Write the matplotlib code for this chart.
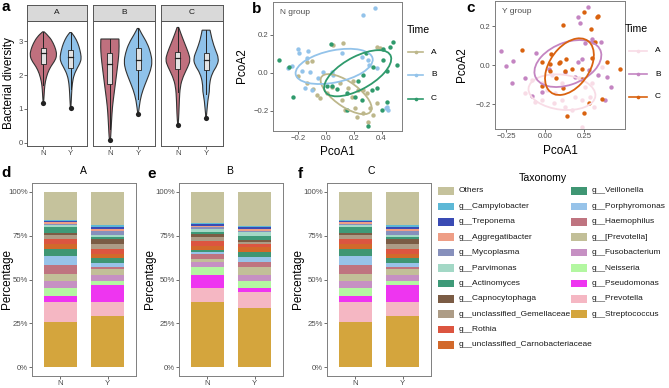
import numpy as np
import matplotlib.pyplot as plt
from matplotlib.patches import Ellipse, Rectangle, PathPatch
from matplotlib.path import Path

plt.rcParams['font.family'] = ['Liberation Sans', 'DejaVu Sans']

W, H = 669, 388

# ---- a: bacterial diversity, violin outlines ----
div_times = ['A', 'B', 'C']
div_groups = ['N', 'Y']
div_colors = ['#C0707E', '#8FC2EA']

# diversity level / half width of the violin (x units)
vio_AN_y = [3.27, 3.13, 2.93, 2.74, 2.59, 2.44, 2.25, 2.05, 1.80, 1.60, 1.17]
vio_AN_w = [0.03, 0.22, 0.37, 0.46, 0.49, 0.44, 0.27, 0.15, 0.07, 0.04, 0.01]
vio_AY_y = [3.25, 3.13, 2.93, 2.74, 2.54, 2.39, 2.20, 2.00, 1.75, 1.46, 1.02]
vio_AY_w = [0.03, 0.15, 0.27, 0.34, 0.39, 0.37, 0.24, 0.12, 0.06, 0.035, 0.01]
vio_BN_y = [3.06, 2.83, 2.54, 2.25, 1.85, 1.46, 1.07, 0.68, 0.28, 0.10]
vio_BN_w = [0.32, 0.33, 0.31, 0.27, 0.21, 0.15, 0.09, 0.06, 0.035, 0.02]
vio_BY_y = [3.37, 3.22, 2.93, 2.64, 2.39, 2.15, 1.85, 1.56, 1.26, 0.84]
vio_BY_w = [0.03, 0.12, 0.33, 0.45, 0.50, 0.45, 0.31, 0.17, 0.07, 0.01]
vio_CN_y = [3.40, 3.23, 2.93, 2.64, 2.44, 2.25, 1.95, 1.66, 1.26, 0.87, 0.53]
vio_CN_w = [0.03, 0.10, 0.24, 0.38, 0.44, 0.36, 0.18, 0.08, 0.05, 0.035, 0.01]
vio_CY_y = [3.32, 3.03, 2.74, 2.49, 2.29, 2.05, 1.75, 1.51, 1.26, 0.74]
vio_CY_w = [0.14, 0.21, 0.33, 0.45, 0.40, 0.21, 0.12, 0.12, 0.06, 0.01]

# lower whisker, q1, median, q3, upper whisker / outliers
box_AN = [1.70, 2.31, 2.64, 2.79, 3.27]
box_AY = [1.60, 2.21, 2.54, 2.74, 3.24]
box_BN = [0.40, 1.74, 2.32, 2.64, 3.06]
box_BY = [1.30, 2.15, 2.43, 2.79, 3.37]
box_CN = [1.50, 2.17, 2.49, 2.69, 3.40]
box_CY = [1.45, 2.15, 2.44, 2.66, 3.32]
out_AN, out_AY = [1.17], [1.02]
out_BN, out_BY = [0.10], [0.84]
out_CN, out_CY = [0.53], [0.74]

# ---- b: PCoA of N group ----
b_colors = ['#BDB78B', '#93C3EA', '#2F9A6C']
bA_x = [0.125, 0.053, -0.139, -0.103, -0.199, -0.134, -0.091, -0.062, -0.043, 0.005,
        0.041, 0.101, 0.161, 0.197, 0.185, 0.113, 0.233, 0.269, 0.293, 0.209,
        0.137, 0.221, 0.269, 0.317, 0.365, 0.341, 0.305, 0.365, 0.388]
bA_y = [0.158, 0.146, 0.058, 0.063, -0.018, -0.053, -0.088, -0.118, -0.132, -0.109,
        -0.077, -0.053, -0.082, -0.044, -0.126, -0.144, -0.091, -0.091, -0.109, -0.188,
        -0.196, -0.232, -0.211, -0.188, -0.161, -0.223, -0.258, 0.137, 0.128]
bB_x = [0.264, 0.350, -0.199, -0.127, -0.194, -0.273, -0.247, -0.175, -0.115, -0.024,
        0.041, -0.151, -0.103, 0.113, 0.305, 0.312, 0.365, 0.429, 0.448, 0.257,
        -0.055, 0.053, -0.139, 0.436]
bB_y = [0.304, 0.339, 0.123, 0.116, 0.102, 0.023, 0.037, 0.009, 0.005, 0.005,
        0.005, -0.082, -0.091, 0.102, 0.067, 0.040, 0.023, -0.188, -0.196, 0.081,
        -0.030, -0.012, 0.075, -0.182]
bC_x = [-0.336, -0.264, -0.235, 0.034, 0.288, 0.412, 0.460, 0.484, 0.436, 0.508,
        0.341, 0.269, 0.233, 0.365, 0.329, 0.436, 0.400, 0.149, 0.257, 0.005,
        0.041, 0.300, 0.077, 0.412, 0.209, 0.149]
bC_y = [0.067, 0.032, -0.126, 0.149, 0.102, 0.123, 0.137, 0.160, 0.011, 0.040,
        0.032, -0.012, -0.044, -0.082, -0.091, -0.153, -0.196, -0.196, -0.144, -0.070,
        -0.070, -0.281, -0.088, 0.067, -0.126, -0.109]
# ellipse: centre x, centre y, semi axis a, semi axis b, angle
b_ell = [(0.145, -0.113, 0.20, 0.07, -25), (0.059, 0.033, 0.28, 0.085, 8),
         (0.228, -0.003, 0.255, 0.09, 20)]

# ---- c: PCoA of Y group ----
c_colors = ['#F8DCE6', '#C485C2', '#D9620F']
cA_x = [-0.083, -0.019, 0.013, 0.066, 0.109, 0.194, 0.237, 0.291, 0.312, -0.062,
        0.173, 0.259, 0.216, -0.126, 0.045, 0.301, 0.237, 0.109, -0.019, 0.365,
        0.130, 0.056]
cA_y = [-0.075, -0.092, -0.126, -0.144, -0.178, -0.161, -0.178, -0.161, -0.212, -0.186,
        -0.229, -0.109, -0.067, -0.144, -0.050, -0.092, -0.315, -0.092, -0.178, -0.007,
        -0.212, -0.195]
cB_x = [0.276, 0.212, 0.224, 0.259, 0.301, 0.308, 0.361, -0.282, -0.205, -0.250,
        -0.056, 0.024, -0.130, -0.212, -0.083, -0.019, 0.126, 0.194, 0.237, 0.284,
        0.340, 0.397, 0.423, 0.387, 0.212]
cB_y = [0.297, 0.246, 0.219, 0.113, 0.135, 0.118, 0.120, 0.074, 0.022, -0.003,
        0.062, -0.017, -0.067, -0.089, -0.156, -0.138, -0.032, -0.062, 0.031, -0.024,
        -0.050, -0.062, -0.113, -0.178, 0.019]
cC_x = [0.252, 0.340, 0.335, 0.115, 0.297, -0.150, 0.323, 0.036, -0.019, 0.030,
        0.088, 0.098, 0.135, 0.173, 0.126, 0.073, 0.239, 0.301, 0.397, 0.481,
        0.237, 0.115, -0.019, 0.365, 0.252, 0.143, 0.280, 0.034]
cC_y = [0.275, 0.255, 0.246, 0.207, 0.185, 0.079, 0.121, 0.058, 0.015, 0.005,
        0.014, 0.019, 0.031, -0.021, -0.029, -0.067, -0.019, 0.036, 0.015, -0.019,
        -0.072, -0.115, -0.106, -0.173, -0.246, -0.260, -0.195, -0.027]
c_ell = [(0.109, -0.138, 0.215, 0.09, -5), (0.147, 0.009, 0.22, 0.11, 15),
         (0.157, -0.007, 0.18, 0.115, 40)]

# ---- d/e/f: genus composition (percent), legend order = top of stack first ----
taxa = ['Others', 'g__Campylobacter', 'g__Treponema', 'g__Aggregatibacter',
        'g__Mycoplasma', 'g__Parvimonas', 'g__Actinomyces', 'g__Capnocytophaga',
        'g__unclassified_Gemellaceae', 'g__Rothia', 'g__unclassified_Carnobacteriaceae',
        'g__Veillonella', 'g__Porphyromonas', 'g__Haemophilus', 'g__[Prevotella]',
        'g__Fusobacterium', 'g__Neisseria', 'g__Pseudomonas', 'g__Prevotella',
        'g__Streptococcus']
tax_colors = ['#C5C29C', '#5DB8D6', '#3A4BB4', '#EE9E86', '#8790BC', '#A3D8C6',
              '#3E9A78', '#7B5C45', '#AD9C86', '#DC5540', '#D2692B', '#3F9673',
              '#97C3E9', '#BF7480', '#C2BF98', '#C690C3', '#B3F7A1', '#EE35F0',
              '#F5B7C3', '#D4A53D']
bar_A_N = [15.9, 0.8, 0.7, 0.9, 0.8, 1.2, 3.0, 1.3, 2.3, 2.8, 2.9, 4.2, 4.9, 5.1,
           3.9, 4.2, 4.7, 3.5, 10.9, 26.0]
bar_A_Y = [19.0, 1.0, 1.0, 1.3, 2.1, 1.1, 1.5, 2.5, 3.3, 2.7, 2.5, 2.4, 2.4, 1.2,
           3.4, 3.2, 2.5, 10.0, 7.9, 29.0]
bar_B_N = [17.6, 0.9, 0.8, 0.9, 1.1, 1.5, 1.0, 1.7, 2.8, 2.7, 2.2, 1.2, 1.3, 2.8,
           1.5, 2.9, 4.6, 7.3, 7.9, 37.3]
bar_B_Y = [19.7, 0.6, 0.9, 1.0, 0.9, 1.9, 2.4, 1.3, 1.0, 1.9, 2.5, 3.2, 2.9, 2.4,
           4.8, 3.7, 3.6, 2.7, 8.9, 33.7]
bar_C_N = [15.9, 0.8, 0.7, 0.9, 0.8, 1.2, 3.0, 1.3, 2.3, 2.8, 2.9, 4.2, 4.9, 5.1,
           3.9, 4.2, 4.7, 3.5, 10.9, 26.0]
bar_C_Y = [19.0, 1.0, 1.0, 1.3, 2.1, 1.1, 1.5, 2.5, 3.3, 2.7, 2.5, 2.4, 2.4, 1.2,
           3.4, 3.2, 2.5, 10.0, 7.9, 29.0]

fig = plt.figure(figsize=(W / 100, H / 100), dpi=100)


def px_axes(x0, y0, x1, y1):
    return fig.add_axes([x0 / W, 1 - y1 / H, (x1 - x0) / W, (y1 - y0) / H])


def style(ax, spine='#7F7F7F'):
    for s in ax.spines.values():
        s.set_color(spine)
        s.set_linewidth(0.7)
    ax.tick_params(length=2, width=0.6, color='#555555', labelsize=5.6,
                   labelcolor='#4D4D4D', pad=1.2)


def smooth_outline(xs, ys):
    # quadratic bezier through midpoints so the violin edge is not jagged
    pts = np.column_stack([xs, ys])
    verts = [pts[0]]
    codes = [Path.MOVETO]
    for i in range(1, len(pts) - 1):
        mid = (pts[i] + pts[i + 1]) / 2
        verts += [pts[i], mid]
        codes += [Path.CURVE3, Path.CURVE3]
    verts += [pts[-1], pts[0]]
    codes += [Path.LINETO, Path.CLOSEPOLY]
    return Path(verts, codes)


# ---- panel a ----
violins = {
    ('A', 'N'): (vio_AN_y, vio_AN_w, box_AN, out_AN),
    ('A', 'Y'): (vio_AY_y, vio_AY_w, box_AY, out_AY),
    ('B', 'N'): (vio_BN_y, vio_BN_w, box_BN, out_BN),
    ('B', 'Y'): (vio_BY_y, vio_BY_w, box_BY, out_BY),
    ('C', 'N'): (vio_CN_y, vio_CN_w, box_CN, out_CN),
    ('C', 'Y'): (vio_CY_y, vio_CY_w, box_CY, out_CY),
}
facet_px = [(27, 87), (93, 155), (161, 223)]
for i, t in enumerate(div_times):
    x0, x1 = facet_px[i]
    ax = px_axes(x0, 21, x1, 146)
    style(ax, '#555555')
    for j, g in enumerate(div_groups):
        pos = j + 1
        vy, vw, bx, outl = violins[(t, g)]
        vy = np.array(vy)
        vw = np.array(vw)
        xs = np.concatenate([pos + vw, (pos - vw)[::-1]])
        ys = np.concatenate([vy, vy[::-1]])
        ax.add_patch(PathPatch(smooth_outline(xs, ys), facecolor=div_colors[j],
                               edgecolor='#333333', lw=0.8, zorder=2))
        ax.plot([pos, pos], [bx[0], bx[1]], color='#222222', lw=0.7, zorder=3)
        ax.plot([pos, pos], [bx[3], bx[4]], color='#222222', lw=0.7, zorder=3)
        ax.add_patch(Rectangle((pos - 0.09, bx[1]), 0.18, bx[3] - bx[1],
                               facecolor='#E3E3E3', edgecolor='#222222', lw=0.6, zorder=4))
        ax.plot([pos - 0.09, pos + 0.09], [bx[2], bx[2]], color='#222222', lw=0.9, zorder=5)
        ax.scatter([pos] * len(outl), outl, s=14, color='#222222', zorder=5, lw=0)
    ax.set_xlim(0.4, 2.6)
    ax.set_ylim(-0.09, 3.59)
    ax.set_xticks([1, 2])
    ax.set_xticklabels(div_groups)
    if i == 0:
        ax.set_yticks([0, 1, 2, 3])
    else:
        ax.set_yticks([])
    sax = px_axes(x0, 5, x1, 21)
    sax.set_facecolor('#D9D9D9')
    for s in sax.spines.values():
        s.set_color('#555555')
        s.set_linewidth(0.7)
    sax.set_xticks([])
    sax.set_yticks([])
    sax.text(0.5, 0.5, t, ha='center', va='center', fontsize=6, color='#1A1A1A',
             transform=sax.transAxes)

# ---- panels b and c ----
pcoa = [
    ((273, 2, 402, 131), (-0.381, 0.547), (-0.307, 0.372), b_colors, b_ell,
     [(bA_x, bA_y), (bB_x, bB_y), (bC_x, bC_y)], 'N group',
     [-0.2, 0.0, 0.2, 0.4], ['\u22120.2', '0.0', '0.2', '0.4']),
    ((495, 1, 625, 129), (-0.32, 0.513), (-0.327, 0.33), c_colors, c_ell,
     [(cA_x, cA_y), (cB_x, cB_y), (cC_x, cC_y)], 'Y group',
     [-0.25, 0.0, 0.25], ['\u22120.25', '0.00', '0.25']),
]
for box, xl, yl, cols, ells, pts, lab, xt, xtl in pcoa:
    ax = px_axes(*box)
    style(ax)
    for k in range(3):
        px, py = pts[k]
        ax.scatter(px, py, s=10, color=cols[k], lw=0, zorder=2)
        cx, cy, a, b, ang = ells[k]
        ax.add_patch(Ellipse((cx, cy), 2 * a, 2 * b, angle=ang, fill=False,
                             edgecolor=cols[k], lw=1.3, zorder=3))
    ax.set_xlim(*xl)
    ax.set_ylim(*yl)
    ax.set_xticks(xt)
    ax.set_xticklabels(xtl)
    ax.set_yticks([-0.2, 0.0, 0.2])
    ax.set_yticklabels(['\u22120.2', '0.0', '0.2'])
    ax.text(0.055, 0.92, lab, transform=ax.transAxes, fontsize=6, color='#4D4D4D',
            va='center')

# ---- panels d, e, f ----
bars = [((32, 136), 'A', bar_A_N, bar_A_Y), ((179, 283), 'B', bar_B_N, bar_B_Y),
        ((327, 431), 'C', bar_C_N, bar_C_Y)]
for (x0, x1), t, vn, vy in bars:
    ax = px_axes(x0, 183, x1, 376)
    style(ax)
    vals = np.array([vn, vy]) / 100.0
    bottom = np.zeros(2)
    for k in range(len(taxa) - 1, -1, -1):
        ax.bar([1, 2], vals[:, k], bottom=bottom, width=0.7, color=tax_colors[k], lw=0)
        bottom += vals[:, k]
    ax.set_xlim(0.4, 2.6)
    ax.set_ylim(-0.05, 1.05)
    ax.set_xticks([1, 2])
    ax.set_xticklabels(div_groups)
    ax.set_yticks([0, 0.25, 0.5, 0.75, 1.0])
    ax.set_yticklabels(['0%', '25%', '50%', '75%', '100%'])

# ---- overlay in pixel coordinates for labels and legends ----
ov = fig.add_axes([0, 0, 1, 1])
ov.set_xlim(0, W)
ov.set_ylim(H, 0)
ov.axis('off')

for letter, (lx, ly) in zip('abcdef', [(6, 7), (257, 9), (471, 8), (6, 173), (152, 174), (300, 174)]):
    ov.text(lx, ly, letter, fontsize=11, fontweight='bold', ha='center', va='center')

ov.text(9, 83, 'Bacterial diversity', rotation=90, fontsize=8.5, ha='center', va='center')
ov.text(242, 66, 'PcoA2', rotation=90, fontsize=8.5, ha='center', va='center')
ov.text(462, 65, 'PcoA2', rotation=90, fontsize=8.5, ha='center', va='center')
ov.text(337, 152, 'PcoA1', fontsize=8.5, ha='center', va='center')
ov.text(560, 151, 'PcoA1', fontsize=8.5, ha='center', va='center')
for px_ in [7, 150, 298]:
    ov.text(px_, 279, 'Percentage', rotation=90, fontsize=8.5, ha='center', va='center')
for tx, t in zip([83, 230, 371], div_times):
    ov.text(tx, 171, t, fontsize=7.5, ha='center', va='center')

# Time legends
for (tx, ty, lx0, lx1, rows, cols) in [(407, 30, 408, 423, [52, 75, 99], b_colors),
                                       (625, 29, 629, 647, [51, 74, 97], c_colors)]:
    ov.text(tx, ty, 'Time', fontsize=7.6, ha='left', va='center')
    for r, t, col in zip(rows, div_times, cols):
        ov.plot([lx0, lx1], [r, r], color=col, lw=1.2)
        ov.scatter([(lx0 + lx1) / 2], [r], s=7, color=col, lw=0)
        ov.text(lx1 + 8, r, t, fontsize=6, ha='left', va='center')

# Taxonomy legend
ov.text(543, 178, 'Taxonomy', fontsize=7.6, ha='center', va='center')
for k, (name, col) in enumerate(zip(taxa, tax_colors)):
    if k < 11:
        kx, row = 438, k
    else:
        kx, row = 571, k - 11
    ry = 191 + row * 15.4
    ov.add_patch(Rectangle((kx, ry - 3.8), 15.5, 7.6, facecolor=col, lw=0))
    ov.text(kx + 21, ry, name, fontsize=6, ha='left', va='center', color='#1A1A1A')

fig.savefig('out.png', dpi=100)
